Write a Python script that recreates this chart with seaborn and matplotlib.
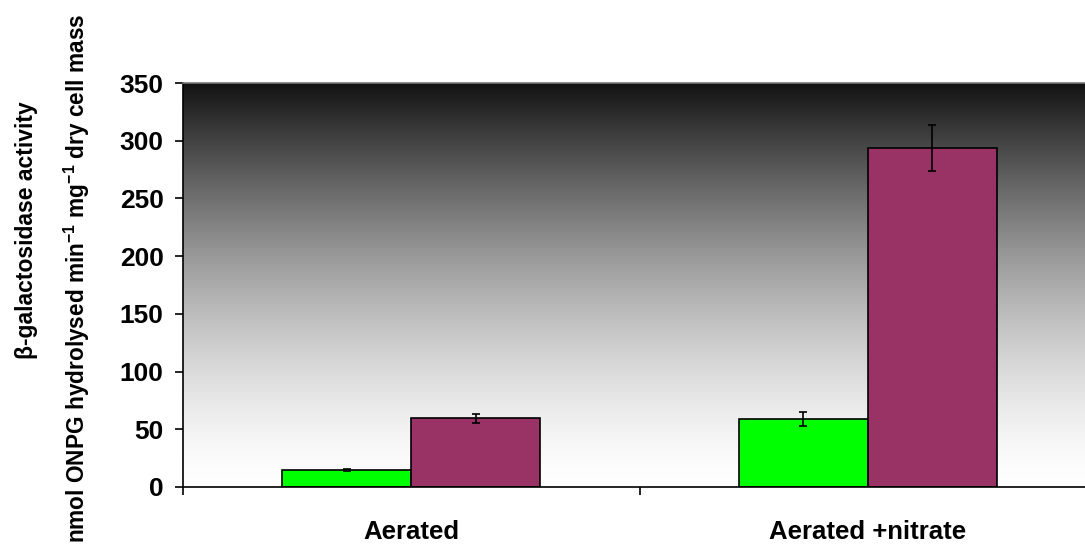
import numpy as np
import pandas as pd
import matplotlib
matplotlib.use("Agg")
import matplotlib.pyplot as plt
import seaborn as sns

# Measured activities (mean and error) for each growth condition
conditions = ["Aerated", "Aerated +nitrate"]
strain_a_mean = [15, 59]
strain_a_err = [1, 6]
strain_b_mean = [59.5, 294]
strain_b_err = [4, 20]
y_ticks = [0, 50, 100, 150, 200, 250, 300, 350]

bar_colors = ["#00FF00", "#993366"]

sns.set_theme(style="white")
plt.rcParams["font.family"] = ["Liberation Sans", "DejaVu Sans"]
plt.rcParams["font.weight"] = "bold"
plt.rcParams["text.color"] = "black"
plt.rcParams["xtick.color"] = "black"
plt.rcParams["ytick.color"] = "black"
plt.rcParams["mathtext.fontset"] = "custom"
plt.rcParams["mathtext.rm"] = "Liberation Sans:bold"
plt.rcParams["mathtext.default"] = "rm"

df = pd.DataFrame({
    "condition": conditions * 2,
    "strain": ["a"] * 2 + ["b"] * 2,
    "activity": strain_a_mean + strain_b_mean,
})
errs = {"a": strain_a_err, "b": strain_b_err}

W, H = 1085, 550
fig = plt.figure(figsize=(W / 100, H / 100), dpi=100)
ax = fig.add_axes([183 / W, (H - 487) / H, (1096 - 183) / W, 404 / H])

# grey-to-black vertical gradient behind the bars
t = np.linspace(0, 1, 512)[:, None]
grey = 1 - 0.93 * t ** 1.5
grad = np.dstack([grey, grey, grey])
ax.imshow(grad, extent=[0, 1, 0, 1], transform=ax.transAxes, origin="lower",
          aspect="auto", zorder=0, interpolation="bilinear")

sns.barplot(data=df, x="condition", y="activity", hue="strain",
            order=conditions, hue_order=["a", "b"], palette=bar_colors,
            saturation=1, width=0.566, gap=0, edgecolor="black", linewidth=1.2,
            errorbar=None, legend=False, ax=ax, zorder=2)

for cont, key in zip(ax.containers, ["a", "b"]):
    for bar, e in zip(cont.patches, errs[key]):
        xc = bar.get_x() + bar.get_width() / 2
        ax.errorbar(xc, bar.get_height(), yerr=e, fmt="none", ecolor="black",
                    elinewidth=1.2, capsize=3, capthick=1.2, zorder=3)

ax.set_xlim(-0.5, 1.5)
ax.set_ylim(0, 350)
ax.set_yticks(y_ticks)
ax.set_yticklabels([str(v) for v in y_ticks], fontsize=19, fontweight="bold")

ax.set_xticks([-0.5, 0.5, 1.5])
ax.set_xticklabels([])
ax.set_xticks([0, 1], minor=True)
ax.set_xticklabels(conditions, minor=True, fontsize=18.5, fontweight="bold")
ax.tick_params(axis="x", which="major", direction="out", length=6, width=1.2,
               color="black", bottom=True)
ax.tick_params(axis="x", which="minor", length=0, pad=24, bottom=True)
ax.tick_params(axis="y", direction="out", length=6, width=1.2, color="black",
               left=True, pad=8)
ax.set_xlabel("")
ax.set_ylabel("")

for side in ["left", "bottom"]:
    ax.spines[side].set_color("black")
    ax.spines[side].set_linewidth(1.2)
ax.spines["top"].set_color("#777777")
ax.spines["top"].set_linewidth(1.2)
ax.spines["right"].set_visible(False)

fig.text(26 / W, 1 - 230 / H, "β-galactosidase activity", rotation=90,
         ha="center", va="center", fontsize=16.5, fontweight="bold")
fig.text(77 / W, 1 - 278 / H,
         "nmol ONPG hydrolysed min$^{-1}$ mg$^{-1}$ dry cell mass",
         rotation=90, ha="center", va="center", fontsize=16.3, fontweight="bold")

fig.savefig("out.png", dpi=100)
